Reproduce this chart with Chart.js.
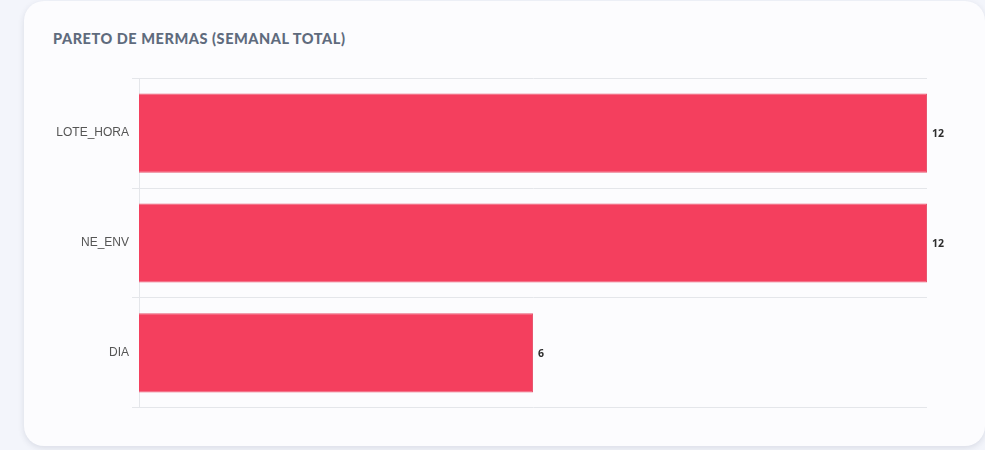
<!DOCTYPE html>
<html>
<head>
<meta charset="utf-8">
<script src="https://cdn.jsdelivr.net/npm/chart.js@4"></script>
<style>
  html, body { margin: 0; padding: 0; }
  body { width: 985px; height: 450px; background: #f3f5fb; overflow: hidden; position: relative; font-family: "Lato", sans-serif; }
  .card {
    position: absolute; left: 24px; top: 1px; width: 961px; height: 445px;
    background: #fcfcfe; border-radius: 20px;
    box-shadow: 0 2px 6px rgba(30, 40, 70, 0.12);
  }
  .title {
    position: absolute; left: 29px; top: 29px;
    font-family: "Lato", sans-serif; font-weight: 900; font-size: 14.5px;
    letter-spacing: 0.55px; color: #5f6b7d;
  }
  .chart-box { position: absolute; left: 24px; top: 67px; width: 912px; height: 350px; }
</style>
</head>
<body>
<div class="card">
  <div class="title">PARETO DE MERMAS (SEMANAL TOTAL)</div>
  <div class="chart-box"><canvas id="pareto"></canvas></div>
</div>
<script>
// ============== pareto de mermas ==============
var categories = ["LOTE_HORA", "NE_ENV", "DIA"];
var mermas = [12, 12, 6];
var maxValue = 12;

// draws the value next to the end of each bar
var valueLabels = {
    id: 'valueLabels',
    afterDatasetsDraw: function (chart) {
        var ctx = chart.ctx;
        var meta = chart.getDatasetMeta(0);
        ctx.save();
        ctx.font = 'bold 10.5px "Open Sans", sans-serif';
        ctx.fillStyle = '#2d2d2d';
        ctx.textAlign = 'left';
        ctx.textBaseline = 'middle';
        meta.data.forEach(function (bar, i) {
            ctx.fillText(chart.data.datasets[0].data[i], bar.x + 5, bar.y + 1);
        });
        ctx.restore();
    }
};

var ctx = document.getElementById('pareto');

var paretoChart = new Chart(ctx, {
    type: 'bar',
    data: {
        labels: categories,
        datasets: [{
            label: 'Mermas',
            data: mermas,
            backgroundColor: '#f43f5e',
            borderColor: '#e8566f',
            borderWidth: 1
        }]
    },
    options: {
        indexAxis: 'y',
        responsive: true,
        maintainAspectRatio: false,
        animation: false,
        layout: { padding: { top: 1, bottom: 2, right: 33 } },
        plugins: {
            legend: { display: false },
            tooltip: { enabled: false }
        },
        scales: {
            x: {
                display: false,
                min: 0,
                max: maxValue
            },
            y: {
                afterFit: function (scale) { scale.width = 91; },
                grid: { color: '#e4e6ea', tickLength: 7 },
                border: { color: '#e4e6ea' },
                ticks: {
                    color: '#555',
                    padding: 3,
                    font: { family: '"Liberation Sans", Arial, sans-serif', size: 12 }
                }
            }
        }
    },
    plugins: [valueLabels]
});
</script>
</body>
</html>
